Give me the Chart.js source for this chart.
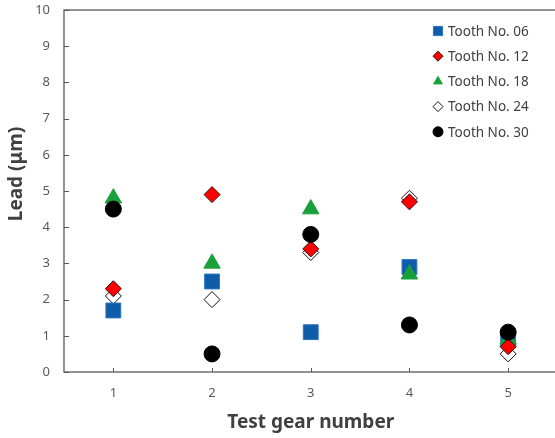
<!DOCTYPE html>
<html>
<head>
<meta charset="utf-8">
<script src="https://cdn.jsdelivr.net/npm/chart.js@4/dist/chart.umd.min.js"></script>
<style>
  html, body { margin: 0; padding: 0; background: #fff; overflow: hidden; width: 555px; height: 438px; }
  #leadChart { display: block; }
</style>
</head>
<body>
<canvas id="leadChart" width="562" height="438"></canvas>
<script>
// Lead deviation per test gear, one series per measured tooth
const gears = [1, 2, 3, 4, 5];
const tooth06 = [1.7, 2.5, 1.1, 2.9, 0.9];
const tooth12 = [2.3, 4.9, 3.4, 4.7, 0.7];
const tooth18 = [4.8, 3.0, 4.5, 2.7, 0.9];
const tooth24 = [2.1, 2.0, 3.3, 4.8, 0.5];
const tooth30 = [4.5, 0.5, 3.8, 1.3, 1.1];
const yTicks = [0, 1, 2, 3, 4, 5, 6, 7, 8, 9, 10];

const FONT = "'Noto Sans', 'Open Sans', sans-serif";
const AXIS = '#595959';

const toPoints = vals => vals.map((v, i) => ({ x: gears[i], y: v }));

const series = [
    { label: 'Tooth No. 06', data: tooth06, style: 'rect', radius: 10.5, bg: '#0F5CA8', border: '#2F75C0', order: 3 },
    { label: 'Tooth No. 12', data: tooth12, style: 'rectRot', radius: 8, bg: '#FF0000', border: '#3A0A0A', order: 1 },
    { label: 'Tooth No. 18', data: tooth18, style: 'triangle', radius: 9.5, bg: '#18A03A', border: '#18A03A', order: 2 },
    { label: 'Tooth No. 24', data: tooth24, style: 'rectRot', radius: 8, bg: '#FFFFFF', border: '#111111', order: 4 },
    { label: 'Tooth No. 30', data: tooth30, style: 'circle', radius: 8, bg: '#000000', border: '#000000', order: 0 }
];

// frame around the plot (right side runs past the visible page) plus small inward tick marks
const framePlugin = {
    id: 'frame',
    beforeDatasetsDraw(chart) {
        const { ctx, chartArea: a, scales } = chart;
        ctx.save();
        ctx.strokeStyle = AXIS;
        ctx.lineWidth = 1.3;
        ctx.strokeRect(a.left, a.top, a.right - a.left, a.bottom - a.top);
        ctx.lineWidth = 1;
        ctx.beginPath();
        yTicks.forEach(t => {
            const y = Math.round(scales.y.getPixelForValue(t)) + 0.5;
            ctx.moveTo(a.left, y);
            ctx.lineTo(a.left + 5, y);
        });
        gears.forEach(g => {
            const x = Math.round(scales.x.getPixelForValue(g)) + 0.5;
            ctx.moveTo(x, a.bottom);
            ctx.lineTo(x, a.bottom - 4);
        });
        ctx.stroke();
        ctx.restore();
    }
};

// vertical legend in the upper right corner and the y axis title
const legendPlugin = {
    id: 'sideLegend',
    afterDraw(chart) {
        const { ctx, chartArea: a } = chart;
        ctx.save();
        ctx.font = '13.5px ' + FONT;
        ctx.textBaseline = 'middle';
        series.forEach((s, i) => {
            const y = 31 + i * 25.2;
            const x = 438;
            ctx.fillStyle = s.bg;
            ctx.strokeStyle = s.border;
            ctx.lineWidth = 1;
            Chart.helpers.drawPoint(ctx, { pointStyle: s.style, rotation: 0, borderWidth: 1, radius: s.style === 'rect' ? 6.5 : 5 }, x, y);
            ctx.fillStyle = '#404040';
            ctx.fillText(s.label, x + 10, y + 1);
        });

        ctx.translate(17, (a.top + a.bottom) / 2 - 17);
        ctx.rotate(-Math.PI / 2);
        ctx.font = 'bold 19px ' + FONT;
        ctx.fillStyle = '#404040';
        ctx.textAlign = 'center';
        ctx.fillText('Lead (μm)', 0, 0);
        ctx.restore();
    }
};

new Chart(document.getElementById('leadChart'), {
    type: 'scatter',
    data: {
        datasets: series.map(s => ({
            label: s.label,
            data: toPoints(s.data),
            pointStyle: s.style,
            pointRadius: s.radius,
            pointHoverRadius: s.radius,
            backgroundColor: s.bg,
            borderColor: s.border,
            borderWidth: 1,
            order: s.order
        }))
    },
    options: {
        responsive: false,
        animation: false,
        layout: { autoPadding: false, padding: { top: 10, right: 4.5, left: 0, bottom: 0 } },
        plugins: {
            legend: { display: false },
            tooltip: { enabled: false }
        },
        scales: {
            x: {
                type: 'linear',
                min: 0.5,
                max: 5.5,
                afterBuildTicks: scale => { scale.ticks = gears.map(v => ({ value: v })); },
                afterFit: scale => {
                    scale.height = 66;
                    scale.paddingLeft = 0;
                    scale.paddingRight = 0;
                },
                grid: { display: false, drawTicks: false },
                border: { display: false },
                ticks: { padding: 13, color: AXIS, font: { family: FONT, size: 13 } },
                title: {
                    display: true,
                    text: 'Test gear number',
                    color: '#404040',
                    padding: { top: 0, bottom: 4 },
                    font: { family: FONT, size: 19, weight: 'bold' }
                }
            },
            y: {
                min: 0,
                max: 10,
                afterBuildTicks: scale => { scale.ticks = yTicks.map(v => ({ value: v })); },
                afterFit: scale => {
                    scale.width = 64;
                    scale.paddingTop = 0;
                    scale.paddingBottom = 0;
                },
                grid: { display: false, drawTicks: false },
                border: { display: false },
                ticks: { padding: 14, color: AXIS, font: { family: FONT, size: 13 } }
            }
        }
    },
    plugins: [framePlugin, legendPlugin]
});
</script>
</body>
</html>
